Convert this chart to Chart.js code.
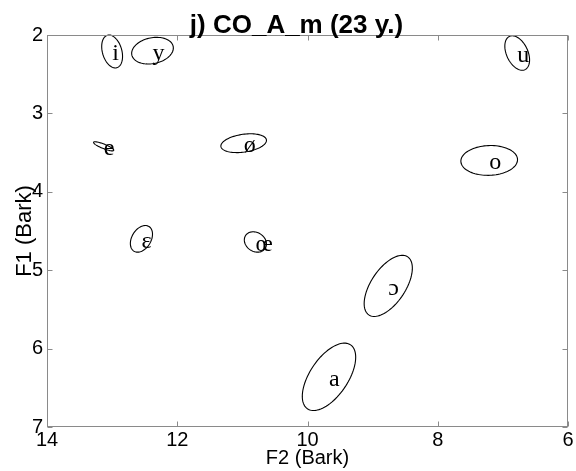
<!DOCTYPE html>
<html>
<head>
<meta charset="utf-8">
<script src="https://cdn.jsdelivr.net/npm/chart.js@4.4.1/dist/chart.umd.min.js"></script>
<style>
  html, body { margin: 0; padding: 0; background: #fff; }
</style>
</head>
<body>
<canvas id="vowelChart" width="576" height="471"></canvas>
<script>
// Vowel space, speaker CO_A_m: mean F2/F1 per vowel plus dispersion ellipse (Bark)
var vowels   = ['i', 'y', 'u', 'e', 'ø', 'o', 'ɛ', 'œ', 'ɔ', 'a'];
var f2Mean   = [13.00, 12.38, 6.78, 13.13, 10.98, 7.21, 12.55, 10.80, 8.76, 9.67];
var f1Mean   = [2.21, 2.20, 2.23, 3.42, 3.38, 3.60, 4.60, 4.64, 5.20, 6.36];
var f2Spread = [0.16, 0.32, 0.19, 0.155, 0.35, 0.435, 0.17, 0.17, 0.37, 0.41];
var f1Spread = [0.21, 0.17, 0.22, 0.058, 0.12, 0.19, 0.17, 0.13, 0.39, 0.43];
var f1f2Corr = [-0.3, 0.2, -0.4, -0.85, 0.3, 0.05, 0.35, -0.2, 0.58, 0.58];
var f2Ticks  = [14, 12, 10, 8, 6];
var f1Ticks  = [2, 3, 4, 5, 6, 7];

var sansFont = '"Liberation Sans", Arial, Helvetica, sans-serif';
var boxGrey = '#8a8a8a';

Chart.defaults.font.family = sansFont;
Chart.defaults.color = '#000';

// ellipses + vowel symbols
var ellipsePlugin = {
  id: 'vowelEllipses',
  afterDatasetsDraw: function (chart) {
    var ctx = chart.ctx, xs = chart.scales.x, ys = chart.scales.y;
    ctx.save();
    ctx.strokeStyle = '#000';
    ctx.lineWidth = 1.1;
    ctx.fillStyle = '#000';
    ctx.font = '24px "Liberation Serif", "Times New Roman", "DejaVu Serif", serif';
    ctx.textAlign = 'left';
    ctx.textBaseline = 'alphabetic';
    for (var i = 0; i < vowels.length; i++) {
      var r = f1f2Corr[i], q = Math.sqrt(1 - r * r);
      ctx.beginPath();
      for (var k = 0; k <= 90; k++) {
        var t = k / 90 * 2 * Math.PI;
        var px = xs.getPixelForValue(f2Mean[i] + f2Spread[i] * Math.cos(t));
        var py = ys.getPixelForValue(f1Mean[i] + f1Spread[i] * (r * Math.cos(t) + q * Math.sin(t)));
        if (k === 0) ctx.moveTo(px, py); else ctx.lineTo(px, py);
      }
      ctx.closePath();
      ctx.stroke();
      ctx.fillText(vowels[i], xs.getPixelForValue(f2Mean[i]), ys.getPixelForValue(f1Mean[i]) + 9);
    }
    ctx.restore();
  }
};

// axes box with inward ticks on all four sides, and the title
var boxPlugin = {
  id: 'axesBox',
  afterDraw: function (chart) {
    var ctx = chart.ctx, a = chart.chartArea, xs = chart.scales.x, ys = chart.scales.y;
    var L = a.left + 0.5, R = a.right - 0.5, T = a.top + 0.5, B = a.bottom - 0.5;
    ctx.save();
    ctx.strokeStyle = boxGrey;
    ctx.lineWidth = 1;
    ctx.strokeRect(L, T, R - L, B - T);
    ctx.beginPath();
    f2Ticks.forEach(function (v) {
      var x = Math.round(xs.getPixelForValue(v)) + 0.5;
      ctx.moveTo(x, B); ctx.lineTo(x, B - 5);
      ctx.moveTo(x, T); ctx.lineTo(x, T + 5);
    });
    f1Ticks.forEach(function (v) {
      var y = Math.round(ys.getPixelForValue(v)) + 0.5;
      ctx.moveTo(L, y); ctx.lineTo(L + 5, y);
      ctx.moveTo(R, y); ctx.lineTo(R - 5, y);
    });
    ctx.stroke();

    ctx.fillStyle = '#000';
    ctx.font = 'bold 26px ' + sansFont;
    ctx.textAlign = 'center';
    ctx.textBaseline = 'alphabetic';
    ctx.fillText('j) CO_A_m (23 y.)', (a.left + a.right) / 2 - 11, 33);
    ctx.restore();
  }
};

var ctx = document.getElementById('vowelChart');
new Chart(ctx, {
  type: 'scatter',
  data: {
    datasets: [{
      label: 'vowels',
      data: vowels.map(function (v, i) { return {x: f2Mean[i], y: f1Mean[i]}; }),
      pointRadius: 0,
      pointHoverRadius: 0
    }]
  },
  options: {
    responsive: false,
    animation: false,
    layout: { padding: { top: 35, right: 8, left: 0, bottom: 0 } },
    plugins: {
      legend: { display: false },
      tooltip: { enabled: false }
    },
    scales: {
      x: {
        type: 'linear',
        reverse: true,
        min: 6,
        max: 14,
        afterBuildTicks: function (s) { s.ticks = f2Ticks.map(function (v) { return {value: v}; }); },
        afterFit: function (s) { s.height = 44; },
        grid: { display: false, drawTicks: false },
        border: { display: false },
        ticks: { autoSkip: false, maxRotation: 0, padding: 1, font: { size: 20 }, color: '#000' },
        title: { display: true, text: 'F2 (Bark)', font: { size: 20 }, padding: { top: 0, bottom: 1 }, color: '#000' }
      },
      y: {
        type: 'linear',
        reverse: true,
        min: 2,
        max: 7,
        afterBuildTicks: function (s) { s.ticks = f1Ticks.map(function (v) { return {value: v}; }); },
        afterFit: function (s) { s.width = 47; },
        grid: { display: false, drawTicks: false },
        border: { display: false },
        ticks: { autoSkip: false, padding: 4, font: { size: 20 }, color: '#000' },
        title: { display: true, text: 'F1 (Bark)', font: { size: 22 }, padding: { top: 12, bottom: 0 }, color: '#000' }
      }
    }
  },
  plugins: [ellipsePlugin, boxPlugin]
});
</script>
</body>
</html>
